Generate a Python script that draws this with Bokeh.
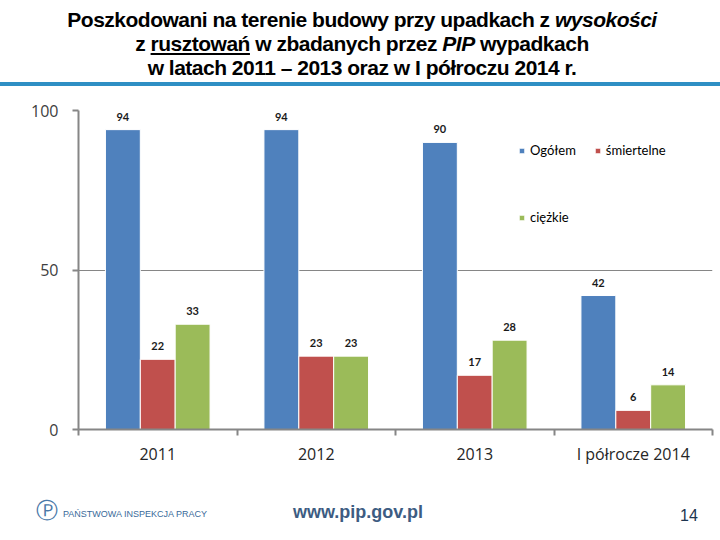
from bokeh.plotting import figure
from bokeh.models import (Range1d, FixedTicker, ColumnDataSource, LabelSet,
                          Legend, LegendItem, Div)
from bokeh.layouts import column
from bokeh.transform import dodge
from bokeh.embed import file_html
from bokeh.resources import INLINE
from bokeh.core.properties import value

# ---- data ----
categories = ["2011", "2012", "2013", "I półrocze 2014"]
ogolem = [94, 94, 90, 42]
smiertelne = [22, 23, 17, 6]
ciezkie = [33, 23, 28, 14]
y_ticks = [0, 50, 100]
series_names = ["Ogółem", "śmiertelne", "ciężkie"]
colors = ["#4F81BD", "#C0504D", "#9BBB59"]

pos = [i + 0.5 for i in range(len(categories))]
boundaries = [float(i) for i in range(len(categories) + 1)]
src = ColumnDataSource(dict(
    x=pos, cat=categories,
    o=ogolem, s=smiertelne, c=ciezkie,
    ot=[str(v) for v in ogolem], st=[str(v) for v in smiertelne], ct=[str(v) for v in ciezkie],
))

# ---- title ----
title_html = (
    "<div style=\"width:720px;height:86px;border-bottom:4px solid #2E8FC4;\">"
    "<div style=\"width:720px;padding-top:8px;margin-left:2px;"
    "font-family:'Liberation Sans',sans-serif;letter-spacing:-0.5px;"
    "font-weight:bold;font-size:21px;line-height:24px;text-align:center;color:#000;\">"
    "Poszkodowani na terenie budowy przy upadkach z <i>wysokości</i><br>"
    "z <u>rusztowań</u> w zbadanych przez <i>PIP</i> wypadkach<br>"
    "w latach 2011 – 2013 oraz w I półroczu 2014 r.</div></div>"
)
title_div = Div(text=title_html, width=720, height=90, margin=0)

# ---- chart ----
p = figure(width=720, height=380, x_range=Range1d(0, len(categories)), y_range=Range1d(0, 100),
           output_backend="svg", toolbar_location=None,
           min_border_left=78, min_border_right=8, min_border_top=20, min_border_bottom=41)
p.outline_line_color = None
p.background_fill_color = "white"

offsets = [-0.22, 0.0, 0.22]
cols = ["o", "s", "c"]
tcols = ["ot", "st", "ct"]
renderers = []
for off, col, tcol, color in zip(offsets, cols, tcols, colors):
    r = p.vbar(x=dodge("x", off, range=p.x_range), top=col, width=0.22, source=src,
               fill_color=color, line_color="white", line_width=1)
    renderers.append(r)
    lbl = LabelSet(x=dodge("x", off, range=p.x_range), y=col, text=tcol, source=src,
                   text_align="center", text_baseline="bottom", y_offset=9,
                   text_font=value("Lato"), text_font_style="bold",
                   text_font_size="11px", text_color="#1a1a1a")
    p.add_layout(lbl)

# axes
p.xaxis.ticker = FixedTicker(ticks=pos, minor_ticks=boundaries)
p.xaxis.major_label_overrides = {pv: c for pv, c in zip(pos, categories)}
p.xaxis.major_tick_line_color = None
p.xaxis.major_tick_out = 0
p.xaxis.major_tick_in = 0
p.xaxis.minor_tick_out = 6
p.xaxis.minor_tick_in = 0
p.xaxis.minor_tick_line_color = "#868686"
p.xaxis.minor_tick_line_width = 2
p.xaxis.axis_line_color = "#868686"
p.xaxis.axis_line_width = 2
p.xaxis.major_label_standoff = 7
p.xaxis.major_label_text_font = "Open Sans"
p.xaxis.major_label_text_font_size = "16px"
p.xaxis.major_label_text_color = "#262626"

p.yaxis.ticker = FixedTicker(ticks=y_ticks)
p.yaxis.minor_tick_line_color = None
p.yaxis.major_tick_out = 6
p.yaxis.major_tick_in = 0
p.yaxis.major_tick_line_color = "#868686"
p.yaxis.major_tick_line_width = 2
p.yaxis.axis_line_color = "#868686"
p.yaxis.axis_line_width = 2
p.yaxis.major_label_standoff = 14
p.yaxis.major_label_text_font = "Open Sans"
p.yaxis.major_label_text_font_size = "16px"
p.yaxis.major_label_text_color = "#404040"

p.xgrid.grid_line_color = None
p.ygrid.ticker = FixedTicker(ticks=y_ticks[1:])
p.ygrid.grid_line_color = "#868686"
p.ygrid.grid_line_width = 1

def make_legend(items, loc):
    leg = Legend(items=items, location=loc, orientation="horizontal",
                 glyph_width=7, glyph_height=7, label_standoff=5, spacing=18,
                 padding=0, margin=0, border_line_color=None, background_fill_alpha=0,
                 label_text_font="Lato", label_text_font_size="13px", label_text_color="#000")
    return leg

leg1 = make_legend([LegendItem(label=series_names[0], renderers=[renderers[0]]),
                    LegendItem(label=series_names[1], renderers=[renderers[1]])], (440, 271))
leg2 = make_legend([LegendItem(label=series_names[2], renderers=[renderers[2]])], (440, 204))
p.add_layout(leg1)
p.add_layout(leg2)

# ---- footer ----
footer_html = (
    "<div style=\"position:relative;width:720px;height:70px;\">"
    "<span style=\"position:absolute;left:36px;top:30px;font-family:'DejaVu Sans';font-size:22px;line-height:22px;color:#4a78a8;\">Ⓟ</span>"
    "<span style=\"position:absolute;left:63px;top:39px;font-family:'Liberation Sans';font-size:9px;line-height:11px;color:#3a6a9a;\">PAŃSTWOWA INSPEKCJA PRACY</span>"
    "<span style=\"position:absolute;left:293px;top:32px;font-family:'Liberation Sans';font-weight:bold;font-size:18px;line-height:20px;color:#3d5c82;\">www.pip.gov.pl</span>"
    "<span style=\"position:absolute;left:680px;top:37px;font-family:'Liberation Sans';font-size:16px;line-height:18px;color:#1d3550;\">14</span>"
    "</div>"
)
footer_div = Div(text=footer_html, width=720, height=70, margin=0)

layout = column(title_div, p, footer_div, spacing=0)

open("out.html", "w").write(file_html(layout, INLINE))
